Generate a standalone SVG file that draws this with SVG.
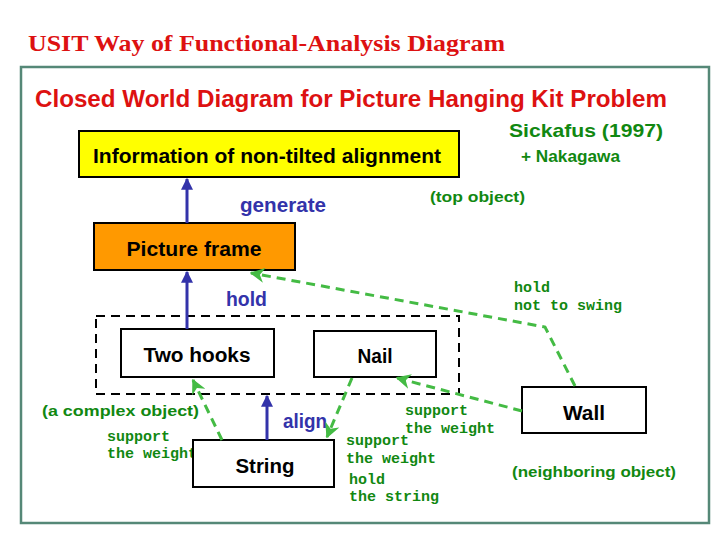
<svg xmlns="http://www.w3.org/2000/svg" width="720" height="540" viewBox="0 0 720 540">
<defs>
<marker id="bh" viewBox="0 0 10 10" refX="9" refY="5" markerWidth="4" markerHeight="4" markerUnits="strokeWidth" orient="auto"><path d="M0,0 L10,5 L0,10 z" fill="#3333aa"/></marker>
<marker id="gh" viewBox="0 0 10 10" refX="9" refY="5" markerWidth="5" markerHeight="5" markerUnits="strokeWidth" orient="auto"><path d="M0,0 L10,5 L0,10 L3,5 z" fill="#44bb44"/></marker>
</defs>
<style>
.box{stroke:#000;stroke-width:2}
.lbl{font-family:"Liberation Sans",Arial,sans-serif;font-size:20px;font-weight:bold;fill:#000;text-anchor:middle}
.g{font-family:"Liberation Sans",Arial,sans-serif;font-weight:bold;fill:#118811}
.m{font-family:"Liberation Mono","DejaVu Sans Mono",monospace;font-size:15px;font-weight:bold;fill:#118811}
.b{font-family:"Liberation Sans",Arial,sans-serif;font-size:20px;font-weight:bold;fill:#3333aa}
.ba{stroke:#3333aa;stroke-width:3;fill:none;marker-end:url(#bh)}
.ga{stroke:#44bb44;stroke-width:3;fill:none;stroke-dasharray:9,6;marker-end:url(#gh)}
</style>
<rect width="720" height="540" fill="#fff"/>
<text x="28" y="51" font-family="Liberation Serif,'Times New Roman',serif" font-size="23" font-weight="bold" fill="#dd1111" textLength="477" lengthAdjust="spacingAndGlyphs">USIT Way of Functional-Analysis Diagram</text>
<rect x="21" y="67" width="688" height="456" fill="none" stroke="#558877" stroke-width="2.5"/>
<text x="35" y="107" font-family="Liberation Sans,Arial,sans-serif" font-size="24" font-weight="bold" fill="#dd1111" textLength="632" lengthAdjust="spacingAndGlyphs">Closed World Diagram for Picture Hanging Kit Problem</text>
<text x="509" y="137" class="g" font-size="19" textLength="154" lengthAdjust="spacingAndGlyphs">Sickafus (1997)</text>
<text x="521" y="162" class="g" font-size="17" textLength="99" lengthAdjust="spacingAndGlyphs">+ Nakagawa</text>
<text x="430" y="202" class="g" font-size="15" textLength="95" lengthAdjust="spacingAndGlyphs">(top object)</text>
<text x="42" y="416" class="g" font-size="15" textLength="157" lengthAdjust="spacingAndGlyphs">(a complex object)</text>
<text x="512" y="477" class="g" font-size="15" textLength="164" lengthAdjust="spacingAndGlyphs">(neighboring object)</text>
<text x="240" y="212" class="b" textLength="86" lengthAdjust="spacingAndGlyphs">generate</text>
<text x="226" y="306" class="b" textLength="41" lengthAdjust="spacingAndGlyphs">hold</text>
<text x="283" y="428" class="b" textLength="44" lengthAdjust="spacingAndGlyphs">align</text>
<text class="m"><tspan x="514" y="292">hold</tspan><tspan x="514" y="310">not to swing</tspan></text>
<text class="m"><tspan x="107" y="441">support</tspan><tspan x="107" y="458">the weight</tspan></text>
<text class="m"><tspan x="405" y="415">support</tspan><tspan x="405" y="433">the weight</tspan></text>
<text class="m"><tspan x="346" y="445">support</tspan><tspan x="346" y="463">the weight</tspan></text>
<text class="m"><tspan x="349" y="484">hold</tspan><tspan x="349" y="501">the string</tspan></text>
<rect x="96" y="316" width="363" height="78" fill="none" stroke="#000" stroke-width="2" stroke-dasharray="9,6"/>
<g id="info"><rect class="box" x="79" y="131" width="380" height="46" fill="#ffff00"/><text class="lbl" x="267" y="163" textLength="348" lengthAdjust="spacingAndGlyphs">Information of non-tilted alignment</text></g>
<g id="frame"><rect class="box" x="94" y="223" width="201" height="47" fill="#ff9900"/><text class="lbl" x="194" y="256" textLength="135" lengthAdjust="spacingAndGlyphs">Picture frame</text></g>
<g id="hooks"><rect class="box" x="121" y="329" width="153" height="48" fill="#fff"/><text class="lbl" x="197" y="362" textLength="107" lengthAdjust="spacingAndGlyphs">Two hooks</text></g>
<g id="nail"><rect class="box" x="314" y="331" width="122" height="46" fill="#fff"/><text class="lbl" x="375" y="363" textLength="35" lengthAdjust="spacingAndGlyphs">Nail</text></g>
<g id="string"><rect class="box" x="193" y="440" width="141" height="47" fill="#fff"/><text class="lbl" x="265" y="473" textLength="59" lengthAdjust="spacingAndGlyphs">String</text></g>
<g id="wall"><rect class="box" x="522" y="387" width="124" height="46" fill="#fff"/><text class="lbl" x="584" y="420" textLength="42" lengthAdjust="spacingAndGlyphs">Wall</text></g>
<g id="connectors">
<line class="ba" x1="187" y1="223" x2="187" y2="179"/>
<line class="ba" x1="187" y1="329" x2="187" y2="272"/>
<line class="ba" x1="267" y1="440" x2="267" y2="396"/>
<polyline class="ga" points="575,386 545,327 251,273"/>
<line class="ga" x1="522" y1="411" x2="397" y2="378"/>
<line class="ga" x1="352" y1="378" x2="327" y2="437"/>
<line class="ga" x1="222" y1="440" x2="193" y2="380"/>
</g>
</svg>
